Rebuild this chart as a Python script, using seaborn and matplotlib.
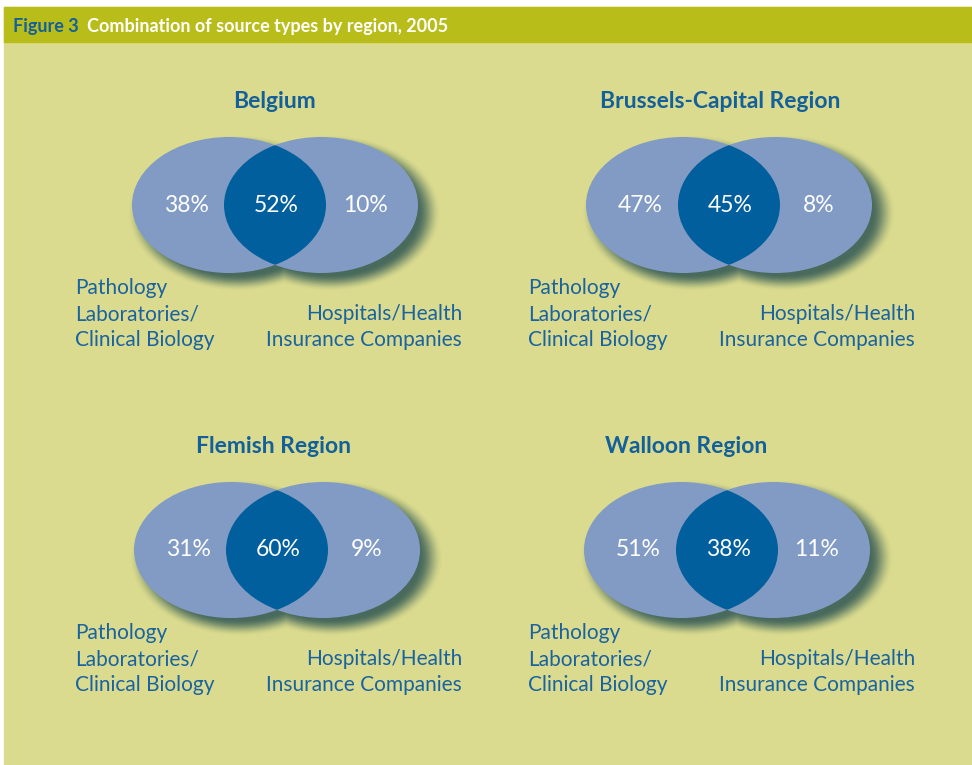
import numpy as np
import matplotlib
matplotlib.use("Agg")
import matplotlib.pyplot as plt
import seaborn as sns
from matplotlib.patches import Ellipse, Rectangle

# data
regions = ["Belgium", "Brussels-Capital Region", "Flemish Region", "Walloon Region"]
lab_only = [38, 47, 31, 51]
both = [52, 45, 60, 38]
hosp_only = [10, 8, 9, 11]
left_label = ["Pathology", "Laboratories/", "Clinical Biology"]
right_label = ["Hospitals/Health", "Insurance Companies"]

W, H = 972, 765
BG = "#dadb8e"
HEADER = "#b9bd19"
LIGHT = "#829bc4"
DARK = "#005f9c"
TXT = "#1a63a0"
TITLE = "#14609a"

sns.set_theme(style="white")
plt.rcParams["font.family"] = ["Lato", "DejaVu Sans"]

fig = plt.figure(figsize=(W / 100, H / 100), dpi=100)
ax = fig.add_axes([0, 0, 1, 1])
ax.set_xlim(0, W)
ax.set_ylim(H, 0)
ax.axis("off")

# panel + header
ax.add_patch(Rectangle((4, 7), W - 4, H - 7, color=BG, zorder=0))
ax.add_patch(Rectangle((4, 7), W - 4, 35, color=HEADER, zorder=1))
ax.text(13, 26, "Figure 3", color="#14609a", fontsize=13, fontweight="bold", va="center")
ax.text(87, 26, "Combination of source types by region, 2005", color="white",
        fontsize=13, fontweight="bold", va="center")

# layout per panel: venn centre, title x, label column centre
centers = [(275, 205), (729, 205), (277, 550), (727, 550)]
title_x = [274.5, 720.5, 273.5, 686.5]
col_x = [275, 728, 275, 728]
a, b, dx = 97, 68, 46

# soft drop shadow, offset down-right
yy, xx = np.mgrid[0:H, 0:W] + 0.5
shadow = np.zeros((H, W))
for cx, cy in centers:
    for ox in (-dx, dx):
        r = np.sqrt(((xx - (cx + ox + 9)) / (a + 2)) ** 2 + ((yy - (cy + 8)) / (b + 2)) ** 2)
        s = np.clip((1.12 - r) / 0.24, 0, 1)
        shadow = np.maximum(shadow, s * s * (3 - 2 * s))
rgba = np.zeros((H, W, 4))
rgba[..., :3] = matplotlib.colors.to_rgb("#2f5653")
rgba[..., 3] = shadow * 0.85
ax.imshow(rgba, extent=(0, W, H, 0), zorder=2, interpolation="bilinear")

for i, (cx, cy) in enumerate(centers):
    left = Ellipse((cx - dx, cy), 2 * a, 2 * b, color=LIGHT, lw=0, zorder=3)
    right = Ellipse((cx + dx, cy), 2 * a, 2 * b, color=LIGHT, lw=0, zorder=3)
    ax.add_patch(left)
    ax.add_patch(right)
    lens = Ellipse((cx + dx, cy), 2 * a, 2 * b, color=DARK, lw=0, zorder=4)
    ax.add_patch(lens)
    lens.set_clip_path(left)

    ax.text(title_x[i], cy - 104, regions[i], color=TITLE, fontsize=16.5, fontweight="bold",
            ha="center", va="center")
    for x, v in zip((cx - 89, cx + 1, cx + 90), (lab_only[i], both[i], hosp_only[i])):
        ax.text(x, cy, f"{v}%", color="white", fontsize=16.5, ha="center", va="center", zorder=5)
    for k, line in enumerate(left_label):
        ax.text(col_x[i] - 200, cy + 83 + 26 * k, line, color=TXT, fontsize=15,
                ha="left", va="center")
    for k, line in enumerate(right_label):
        ax.text(col_x[i] + 187, cy + 109 + 26 * k, line, color=TXT, fontsize=15,
                ha="right", va="center")

fig.savefig("out.png", dpi=100, facecolor="white")
